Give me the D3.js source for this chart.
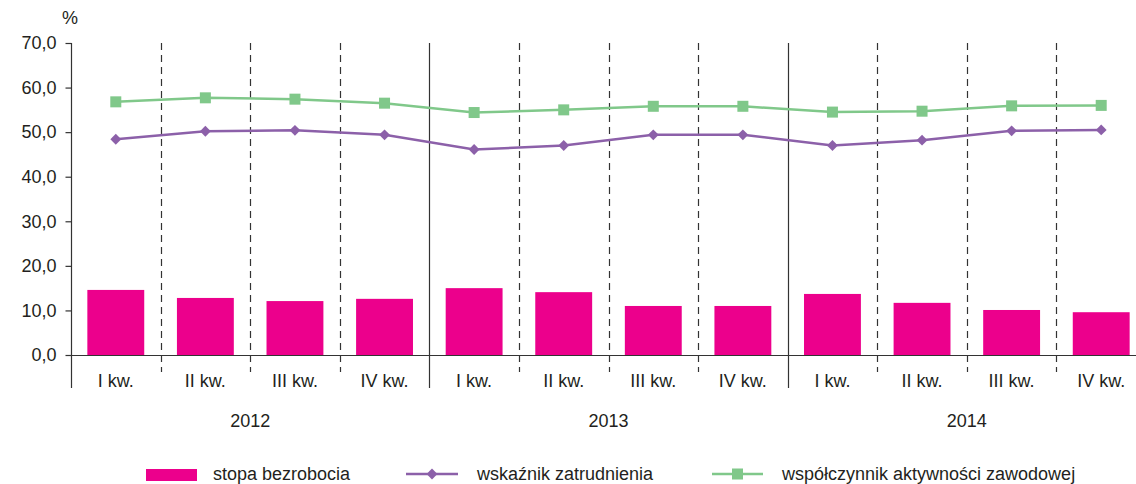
<!DOCTYPE html>
<html>
<head>
<meta charset="utf-8">
<script src="https://cdn.jsdelivr.net/npm/d3@7"></script>
<style>
  html, body { margin: 0; padding: 0; background: #fff; }
  svg { display: block; font-family: 'Liberation Sans', Arial, sans-serif; }
  .tick-label { font-size: 18px; fill: #231f20; }
</style>
</head>
<body>
<svg id="chart" width="1136" height="484"></svg>
<script>
// Quarterly labour market indicators, 2012–2014 (%)
var years = ['2012', '2013', '2014'];
var quarters = ['I kw.', 'II kw.', 'III kw.', 'IV kw.'];
var stopa = [14.6, 12.8, 12.1, 12.6, 15.0, 14.1, 11.0, 11.0, 13.7, 11.7, 10.1, 9.6];
var wskaznik = [48.4, 50.2, 50.4, 49.4, 46.1, 47.0, 49.4, 49.4, 47.0, 48.2, 50.3, 50.5];
var wspolczynnik = [56.8, 57.7, 57.4, 56.5, 54.4, 55.0, 55.8, 55.8, 54.5, 54.7, 55.9, 56.0];
var yTicks = [0, 10, 20, 30, 40, 50, 60, 70];
var seriesNames = ['stopa bezrobocia', 'wskaźnik zatrudnienia', 'współczynnik aktywności zawodowej'];

var C_BAR = '#ec008c', C_PURPLE = '#8c60a9', C_GREEN = '#80c88a', C_AX = '#333';

var svg = d3.select('#chart');
var idx = d3.range(stopa.length);

var x = d3.scaleBand().domain(idx).range([71, 1146])
    .paddingInner(0.365).paddingOuter(0.1825);
var step = x.step();
var y = d3.scaleLinear().domain([0, 70]).range([355, 43]);
function cx(i) { return x(i) + x.bandwidth() / 2; }

// Category separators: dashed between quarters, solid between years
for (var k = 1; k < stopa.length; k++) {
    var sx = x(k) - x.paddingInner() * step / 2;
    sx = Math.round(sx) + 0.5;
    if (k % 4 === 0) {
        svg.append('line').attr('x1', sx).attr('x2', sx).attr('y1', y(70)).attr('y2', 388)
            .attr('stroke', C_AX).attr('stroke-width', 1.2);
    } else {
        svg.append('line').attr('x1', sx).attr('x2', sx).attr('y1', y(70)).attr('y2', 372)
            .attr('stroke', C_AX).attr('stroke-width', 1.2).attr('stroke-dasharray', '7,5');
    }
}

// Bars
svg.append('g').selectAll('rect').data(stopa).enter().append('rect')
    .attr('x', function (d, i) { return x(i); })
    .attr('width', x.bandwidth())
    .attr('y', function (d) { return y(d); })
    .attr('height', function (d) { return y(0) - y(d); })
    .attr('fill', C_BAR);

// Axes
svg.append('line').attr('x1', 71).attr('x2', 1146).attr('y1', y(0) + 0.5).attr('y2', y(0) + 0.5)
    .attr('stroke', C_AX).attr('stroke-width', 1.2);
svg.append('line').attr('x1', 71.5).attr('x2', 71.5).attr('y1', y(70)).attr('y2', 388)
    .attr('stroke', C_AX).attr('stroke-width', 1.2);

var ay = svg.append('g').attr('transform', 'translate(71.5,0)')
    .call(d3.axisLeft(y).tickValues(yTicks).tickSize(6).tickPadding(9)
        .tickFormat(function (d) { return d.toFixed(1).replace('.', ','); }));
ay.select('.domain').remove();
ay.selectAll('.tick line').attr('stroke', C_AX).attr('stroke-width', 1.2);
ay.selectAll('.tick text').attr('class', 'tick-label').attr('fill', '#231f20');
ay.attr('font-size', null).attr('font-family', null);

svg.append('text').attr('x', 70).attr('y', 24).attr('text-anchor', 'middle')
    .attr('class', 'tick-label').attr('font-size', 17).text('%');

// Category & year labels
svg.append('g').selectAll('text').data(idx).enter().append('text')
    .attr('class', 'tick-label')
    .attr('x', function (i) { return cx(i); })
    .attr('y', 387).attr('text-anchor', 'middle')
    .text(function (i) { return quarters[i % 4]; });
svg.append('g').selectAll('text').data(years).enter().append('text')
    .attr('class', 'tick-label')
    .attr('x', function (d, j) { return (cx(j * 4) + cx(j * 4 + 3)) / 2; })
    .attr('y', 427).attr('text-anchor', 'middle')
    .text(function (d) { return d; });

// Lines
var line = d3.line().x(function (d, i) { return cx(i); }).y(function (d) { return y(d); });
svg.append('path').datum(wspolczynnik).attr('d', line).attr('fill', 'none')
    .attr('stroke', C_GREEN).attr('stroke-width', 2.5);
svg.append('path').datum(wskaznik).attr('d', line).attr('fill', 'none')
    .attr('stroke', C_PURPLE).attr('stroke-width', 2.5);

svg.append('g').selectAll('rect').data(wspolczynnik).enter().append('rect')
    .attr('x', function (d, i) { return cx(i) - 5.5; })
    .attr('y', function (d) { return y(d) - 5.5; })
    .attr('width', 11).attr('height', 11).attr('fill', C_GREEN);
var diamond = d3.symbol().type(d3.symbolDiamond2).size(75);
svg.append('g').selectAll('path').data(wskaznik).enter().append('path')
    .attr('transform', function (d, i) { return 'translate(' + cx(i) + ',' + y(d) + ')'; })
    .attr('d', diamond).attr('fill', C_PURPLE);

// Legend
var lg = svg.append('g');
lg.append('rect').attr('x', 146).attr('y', 469).attr('width', 51).attr('height', 12).attr('fill', C_BAR);
lg.append('text').attr('class', 'tick-label').attr('x', 213).attr('y', 480).text(seriesNames[0]);

lg.append('line').attr('x1', 406).attr('x2', 458).attr('y1', 474).attr('y2', 474)
    .attr('stroke', C_PURPLE).attr('stroke-width', 2.5);
lg.append('path').attr('transform', 'translate(432,474)').attr('d', diamond).attr('fill', C_PURPLE);
lg.append('text').attr('class', 'tick-label').attr('x', 477).attr('y', 480).text(seriesNames[1]);

lg.append('line').attr('x1', 712).attr('x2', 763).attr('y1', 474).attr('y2', 474)
    .attr('stroke', C_GREEN).attr('stroke-width', 2.5);
lg.append('rect').attr('x', 732).attr('y', 468.5).attr('width', 11).attr('height', 11).attr('fill', C_GREEN);
lg.append('text').attr('class', 'tick-label').attr('x', 782).attr('y', 480).text(seriesNames[2]);
</script>
</body>
</html>
